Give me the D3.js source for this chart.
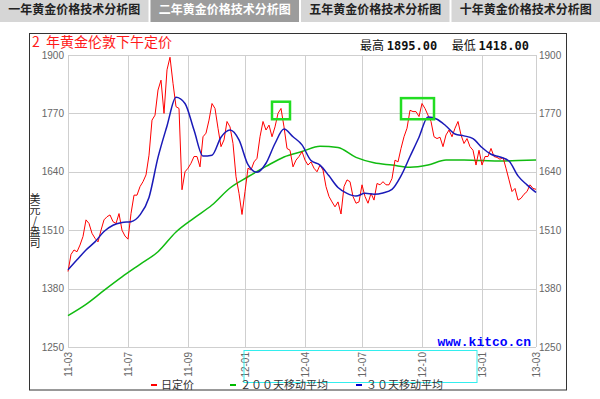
<!DOCTYPE html>
<html lang="zh">
<head>
	<meta charset="UTF-8">
	<title>二年黄金价格技术分析图</title>
	<style>
		html, body {width: 100%; height: 100%; padding: 0; margin: 0; background: #fff;}
		svg {display: block;}
		.tab text {font: bold 12px "Noto Sans CJK SC", sans-serif;}
		.grid line {stroke: #cfcfcf; stroke-width: 1px; shape-rendering: crispEdges;}
		.tick-label {font: 10px "Liberation Sans", Arial, sans-serif; fill: #666;}
		.legend text {font: 11px "Noto Sans CJK SC", sans-serif; fill: #333;}
	</style>
	<script src="https://cdn.jsdelivr.net/npm/d3@7"></script>
</head>
<body>

<script>
// Tabs across the top, the second one is active.
var tabNames = ['一年黄金价格技术分析图', '二年黄金价格技术分析图', '五年黄金价格技术分析图', '十年黄金价格技术分析图'];
var activeTab = 1;

// Axis ticks. x ticks are trading-day indices into the daily series.
var yTicks = [1250, 1380, 1510, 1640, 1770, 1900];
var xTickLabels = ['11-03', '11-07', '11-09', '12-01', '12-04', '12-07', '12-10', '13-01', '13-03'];
var xTickIndex = [0, 20, 40, 59, 79, 98, 118, 138, 156];

// Daily London PM fix (sampled), US$/oz.
var fixPrice = [
	1418, 1456, 1466, 1462, 1477, 1496, 1533, 1525, 1503, 1492,
	1484, 1510, 1533, 1540, 1544, 1529, 1525, 1547, 1510, 1497,
	1490, 1547, 1588, 1588, 1607, 1618, 1633, 1677, 1755, 1766,
	1822, 1844, 1770, 1867, 1895, 1837, 1785, 1781, 1600, 1640,
	1648, 1659, 1674, 1674, 1651, 1718, 1726, 1755, 1792, 1781,
	1737, 1696, 1711, 1752, 1740, 1703, 1629, 1592, 1545, 1596,
	1648, 1644, 1662, 1670, 1718, 1752, 1733, 1744, 1718, 1740,
	1770, 1781, 1740, 1692, 1688, 1651, 1666, 1674, 1685, 1666,
	1655, 1662, 1648, 1640, 1655, 1644, 1607, 1585, 1573, 1562,
	1573, 1546, 1607, 1622, 1618, 1585, 1570, 1573, 1611, 1585,
	1570, 1592, 1577, 1614, 1611, 1618, 1611, 1611, 1625, 1666,
	1662, 1692, 1718, 1737, 1777, 1774, 1774, 1763, 1792, 1781,
	1766, 1752, 1718, 1714, 1717, 1696, 1722, 1733, 1718, 1737,
	1752, 1722, 1703, 1714, 1696, 1688, 1655, 1688, 1655, 1674,
	1674, 1692, 1674, 1672, 1668, 1672, 1648, 1622, 1596, 1603,
	1577, 1581, 1590, 1596, 1611, 1603, 1601
];

// 30 day moving average, one value every 3 samples.
var ma30 = [
	1422, 1444, 1466, 1484, 1507, 1521, 1527, 1529, 1544, 1583,
	1672, 1742, 1806, 1792, 1733, 1675, 1677, 1717, 1733, 1711,
	1656, 1639, 1659, 1703, 1735, 1718, 1700, 1665, 1655, 1631,
	1605, 1592, 1586, 1592, 1590, 1593, 1601, 1631, 1674, 1717,
	1762, 1757, 1742, 1724, 1720, 1714, 1694, 1679, 1673, 1664,
	1631, 1611, 1594
];

// 200 day moving average, one value every 6 samples.
var ma200 = [
	1320, 1345, 1376, 1406, 1434, 1462, 1506, 1537, 1566, 1604,
	1629, 1652, 1673, 1685, 1697, 1694, 1672, 1660, 1655, 1650,
	1655, 1666, 1666, 1665, 1664, 1665, 1666
];

// Highlighted peaks: [from index, to index, low value, high value].
var highlights = [[68, 74, 1757, 1796], [111, 122, 1757, 1804]];

var legendItems = [
	{label: '日定价', color: '#ff0000'},
	{label: '２００天移动平均', color: '#00bb00'},
	{label: '３０天移动平均', color: '#0000cc'}
];
</script>

<script>
	var width = 600;
	var height = 399;
	var plot = {left: 68, right: 536, top: 55, bottom: 347};

	var svg = d3.select('body').append('svg')
		.attr('width', width)
		.attr('height', height);

	// Tabs
	var tabW = (width + 2) / tabNames.length;
	var tab = svg.selectAll('.tab')
		.data(tabNames)
		.enter().append('g')
		.attr('class', 'tab')
		.attr('transform', function (d, i) { return 'translate(' + (i * tabW) + ',0)'; });
	tab.append('rect')
		.attr('width', tabW - 2)
		.attr('height', 22)
		.attr('fill', function (d, i) { return i === activeTab ? '#9c9c9c' : '#d6d6d6'; });
	tab.append('text')
		.attr('x', (tabW - 2) / 2)
		.attr('y', 14)
		.attr('text-anchor', 'middle')
		.attr('fill', function (d, i) { return i === activeTab ? '#fff' : '#222'; })
		.text(function (d) { return d; });

	// Chart frame
	svg.append('rect')
		.attr('x', 29.5)
		.attr('y', 33.5)
		.attr('width', 537)
		.attr('height', 356.5)
		.attr('fill', '#fff')
		.attr('stroke', '#333')
		.attr('stroke-width', 1);

	svg.append('text')
		.attr('x', 32)
		.attr('y', 46.5)
		.attr('fill', '#ff1a1a')
		.style('font', '14px "Noto Sans CJK SC", sans-serif')
		.style('white-space', 'pre')
		.text('2  年黄金伦敦下午定价');

	var hiLo = svg.append('text')
		.attr('x', 529)
		.attr('y', 50)
		.attr('text-anchor', 'end')
		.attr('fill', '#111')
		.style('font-size', '12px')
		.style('white-space', 'pre');
	hiLo.append('tspan').style('font-family', '"Noto Sans CJK SC"').text('最高 ');
	hiLo.append('tspan').style('font-family', '"DejaVu Sans Mono"').style('font-weight', 'bold')
		.text(d3.format('.2f')(d3.max(fixPrice)) + '  ');
	hiLo.append('tspan').style('font-family', '"Noto Sans CJK SC"').text('最低 ');
	hiLo.append('tspan').style('font-family', '"DejaVu Sans Mono"').style('font-weight', 'bold')
		.text(d3.format('.2f')(d3.min(fixPrice)));

	var x = d3.scaleLinear()
		.domain([0, fixPrice.length - 1])
		.range([plot.left, plot.right]);
	var y = d3.scaleLinear()
		.domain([1250, 1900])
		.range([plot.bottom, plot.top]);

	// Grid
	var grid = svg.append('g').attr('class', 'grid');
	grid.selectAll('.h')
		.data(yTicks)
		.enter().append('line')
		.attr('x1', plot.left).attr('x2', plot.right)
		.attr('y1', function (d) { return Math.round(y(d)) + 0.5; })
		.attr('y2', function (d) { return Math.round(y(d)) + 0.5; });
	grid.selectAll('.v')
		.data(xTickIndex)
		.enter().append('line')
		.attr('y1', plot.top).attr('y2', plot.bottom)
		.attr('x1', function (d) { return Math.round(x(d)) + 0.5; })
		.attr('x2', function (d) { return Math.round(x(d)) + 0.5; });

	// y labels on both sides
	svg.selectAll('.yl')
		.data(yTicks)
		.enter().append('text')
		.attr('class', 'tick-label')
		.attr('x', plot.left - 4)
		.attr('y', function (d) { return y(d); })
		.attr('dy', '0.35em')
		.attr('text-anchor', 'end')
		.text(function (d) { return d; });
	svg.selectAll('.yr')
		.data(yTicks)
		.enter().append('text')
		.attr('class', 'tick-label')
		.attr('x', plot.right + 3)
		.attr('y', function (d) { return y(d); })
		.attr('dy', '0.35em')
		.text(function (d) { return d; });

	// x labels, rotated
	svg.selectAll('.xl')
		.data(xTickIndex)
		.enter().append('text')
		.attr('class', 'tick-label')
		.attr('transform', function (d) { return 'translate(' + x(d) + ',' + (plot.bottom + 5) + ') rotate(-90)'; })
		.attr('dy', '0.35em')
		.attr('text-anchor', 'end')
		.text(function (d, i) { return xTickLabels[i]; });

	// y title, written top to bottom
	svg.append('text')
		.attr('x', 35)
		.attr('y', 193)
		.style('writing-mode', 'vertical-rl')
		.style('text-orientation', 'upright')
		.style('font', '11px "Noto Sans CJK SC", sans-serif')
		.attr('fill', '#222')
		.text('美元/盎司');

	// Series
	var line = function (step) {
		return d3.line()
			.x(function (d, i) { return x(i * step); })
			.y(function (d) { return y(d); });
	};
	svg.append('path')
		.datum(ma200)
		.attr('fill', 'none')
		.attr('stroke', '#11bb11')
		.attr('stroke-width', 1.5)
		.attr('d', line(6).curve(d3.curveMonotoneX));
	svg.append('path')
		.datum(fixPrice)
		.attr('fill', 'none')
		.attr('stroke', '#ff0000')
		.attr('stroke-width', 1)
		.attr('d', line(1));
	svg.append('path')
		.datum(ma30)
		.attr('fill', 'none')
		.attr('stroke', '#1a1ab8')
		.attr('stroke-width', 1.5)
		.attr('d', line(3).curve(d3.curveMonotoneX));

	// Highlight boxes
	svg.selectAll('.hl')
		.data(highlights)
		.enter().append('rect')
		.attr('x', function (d) { return x(d[0]); })
		.attr('y', function (d) { return y(d[3]); })
		.attr('width', function (d) { return x(d[1]) - x(d[0]); })
		.attr('height', function (d) { return y(d[2]) - y(d[3]); })
		.attr('fill', 'none')
		.attr('stroke', '#22dd22')
		.attr('stroke-width', 2.5);

	svg.append('text')
		.attr('x', 531)
		.attr('y', 346)
		.attr('text-anchor', 'end')
		.attr('fill', '#0000ff')
		.style('font', 'bold 13px "Liberation Mono", monospace')
		.text('www.kitco.cn');

	// Cyan marker box over the axis labels
	svg.append('rect')
		.attr('x', x(xTickIndex[3]) - 1)
		.attr('y', 350.5)
		.attr('width', 233)
		.attr('height', 32)
		.attr('fill', 'none')
		.attr('stroke', '#33eeee')
		.attr('stroke-width', 1);

	// Legend
	var legendX = [151, 230, 356];
	var legend = svg.selectAll('.legend')
		.data(legendItems)
		.enter().append('g')
		.attr('class', 'legend')
		.attr('transform', function (d, i) { return 'translate(' + legendX[i] + ',385)'; });
	legend.append('rect')
		.attr('y', -1)
		.attr('width', 6)
		.attr('height', 2)
		.attr('fill', function (d) { return d.color; });
	legend.append('text')
		.attr('x', 10)
		.attr('dy', '0.36em')
		.text(function (d) { return d.label; });
</script>

</body>
</html>
